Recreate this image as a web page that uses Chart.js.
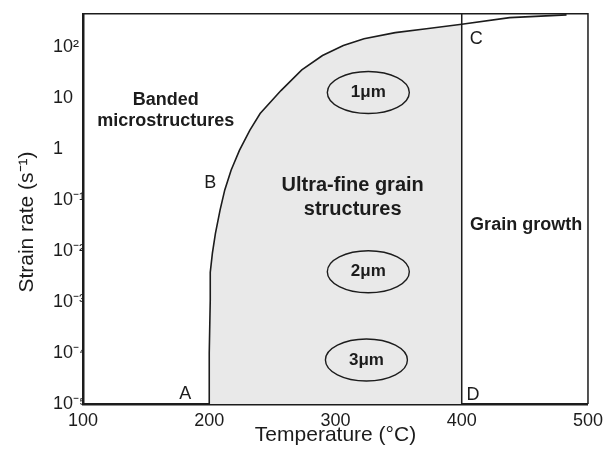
<!DOCTYPE html>
<html>
<head>
<meta charset="utf-8">
<script src="https://cdn.jsdelivr.net/npm/chart.js@4.4.0/dist/chart.umd.min.js"></script>
<style>
  html, body { margin: 0; padding: 0; background: #fff; }
  #wrap { width: 609px; height: 455px; }
</style>
</head>
<body>
<div id="wrap"><canvas id="map" width="609" height="455"></canvas></div>
<script>
// boundary A-B-C (temperature, strain rate)
const boundaryT = [200, 200, 200.8, 200.8, 202.5, 204.9, 208.6, 212.3, 217.3, 223.9, 232.1, 240.3, 256.8, 273.3, 289.7, 306.2, 322.6, 347.3, 372, 400, 438, 483];
const boundaryRate = [1e-5, 1e-4, 1.1e-3, 3.8e-3, 9e-3, 0.022, 0.0635, 0.156, 0.38, 0.93, 2.3, 4.9, 13.8, 35, 67, 105, 143, 188, 224, 275, 370, 420];

// grain growth limit C-D
const limitT = [400, 400];
const limitRate = [1e-5, 440];

// axes
const tempTicks = [100, 200, 300, 400, 500];
const rateTicks = [1e-5, 1e-4, 1e-3, 1e-2, 1e-1, 1, 10, 100];
const rateTickLabels = ['10⁻⁵', '10⁻⁴', '10⁻³', '10⁻²', '10⁻¹', '1', '10', '10²'];
const rateMax = 440;

// grain sizes inside the ultra-fine region
const grainLabels = ['1μm', '2μm', '3μm'];
const grainT = [326, 326, 324.5];
const grainRate = [12.6, 3.9e-3, 7.3e-5];

// region names
const regionLabels = ['Banded', 'microstructures', 'Ultra-fine grain', 'structures', 'Grain growth'];
const regionT = [165.6, 165.6, 313.6, 313.6, 451];
const regionRate = [8.85, 3.45, 0.195, 0.0635, 0.032];

// corner letters
const cornerLabels = ['A', 'B', 'C', 'D'];
const cornerT = [181, 200.8, 411.5, 409];
const cornerRate = [1.58e-5, 0.214, 143, 1.5e-5];

const FONT = '"Liberation Sans", Arial, Helvetica, sans-serif';
const INK = '#1c1c1c';

const boundary = boundaryT.map((t, i) => ({ x: t, y: boundaryRate[i] }));
// shaded area: under the curve up to 400 C, closed along the bottom
const shaded = boundary.filter(p => p.x <= limitT[0]);
shaded.push({ x: limitT[0], y: limitRate[0] });

const overlay = {
  id: 'overlay',
  afterDatasetsDraw(chart) {
    const { ctx, chartArea: a, scales: { x, y } } = chart;
    ctx.save();
    // top and right edges of the frame
    ctx.strokeStyle = INK;
    ctx.lineWidth = 1.5;
    ctx.beginPath();
    ctx.moveTo(a.left, a.top);
    ctx.lineTo(a.right, a.top);
    ctx.lineTo(a.right, a.bottom);
    ctx.stroke();

    ctx.fillStyle = INK;
    ctx.textAlign = 'center';
    ctx.textBaseline = 'middle';

    // grain size ellipses
    grainLabels.forEach((txt, i) => {
      const cx = x.getPixelForValue(grainT[i]);
      const cy = y.getPixelForValue(grainRate[i]);
      ctx.beginPath();
      ctx.ellipse(cx, cy, 41, 21, 0, 0, Math.PI * 2);
      ctx.lineWidth = 1.4;
      ctx.stroke();
      ctx.font = 'bold 17px ' + FONT;
      ctx.fillText(txt, cx, cy);
    });

    regionLabels.forEach((txt, i) => {
      ctx.font = (i === 2 || i === 3 ? 'bold 20px ' : 'bold 18px ') + FONT;
      ctx.fillText(txt, x.getPixelForValue(regionT[i]), y.getPixelForValue(regionRate[i]));
    });

    ctx.font = '18px ' + FONT;
    cornerLabels.forEach((txt, i) => {
      ctx.fillText(txt, x.getPixelForValue(cornerT[i]), y.getPixelForValue(cornerRate[i]));
    });

    // y axis title
    ctx.translate(27, 222);
    ctx.rotate(-Math.PI / 2);
    ctx.font = '21px ' + FONT;
    ctx.fillText('Strain rate (s⁻¹)', 0, 0);
    ctx.restore();
  }
};

new Chart(document.getElementById('map'), {
  type: 'scatter',
  data: {
    // first dataset is drawn on top, so the shading goes last
    datasets: [
      {
        data: boundary,
        showLine: true,
        borderColor: INK,
        borderWidth: 1.6,
        pointRadius: 0,
        tension: 0
      },
      {
        data: limitT.map((t, i) => ({ x: t, y: limitRate[i] })),
        showLine: true,
        borderColor: INK,
        borderWidth: 1.5,
        pointRadius: 0
      },
      {
        data: shaded,
        showLine: true,
        fill: 'shape',
        backgroundColor: '#e9e9e9',
        borderWidth: 0,
        pointRadius: 0,
        tension: 0
      }
    ]
  },
  options: {
    responsive: false,
    animation: false,
    devicePixelRatio: 1,
    layout: { padding: { left: 53, right: 13, top: 10, bottom: 0 } },
    plugins: { legend: { display: false }, tooltip: { enabled: false } },
    scales: {
      x: {
        type: 'linear',
        min: tempTicks[0],
        max: tempTicks[tempTicks.length - 1],
        afterBuildTicks: (s) => { s.ticks = tempTicks.map(v => ({ value: v })); },
        afterFit: (s) => { s.height = 51; },
        grid: { display: false, drawTicks: false },
        border: { color: INK, width: 2.5 },
        ticks: { color: INK, padding: 6, font: { size: 18, family: FONT } },
        title: {
          display: true,
          text: 'Temperature (°C)',
          color: INK,
          padding: { top: 0, bottom: 7 },
          font: { size: 21, family: FONT }
        }
      },
      y: {
        type: 'logarithmic',
        min: rateTicks[0],
        max: rateMax,
        afterBuildTicks: (s) => { s.ticks = rateTicks.map(v => ({ value: v })); },
        afterFit: (s) => { s.width = 30; },
        grid: { display: false, drawTicks: false },
        border: { color: INK, width: 2.5 },
        ticks: {
          color: INK,
          crossAlign: 'far',
          font: { size: 18, family: FONT },
          callback: (v) => {
            const i = rateTicks.findIndex(r => Math.abs(Math.log10(r) - Math.log10(v)) < 1e-6);
            return i >= 0 ? rateTickLabels[i] : '';
          }
        }
      }
    }
  },
  plugins: [overlay]
});
</script>
</body>
</html>
